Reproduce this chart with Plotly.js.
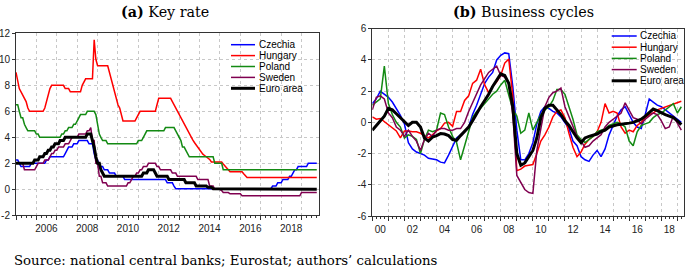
<!DOCTYPE html>
<html><head><meta charset="utf-8">
<script src="https://cdn.plot.ly/plotly-3.0.1.min.js"></script>
<style>body{margin:0;background:#fff}#chart{width:685px;height:270px}</style>
</head><body><div id="chart"></div>
<script>
// ---------- DATA ----------
const seriesNames = ['Czechia', 'Hungary', 'Poland', 'Sweden', 'Euro area'];

// (a) Key rate, monthly 2005-01 .. 2019-10
const keyRateStart = '2005-01';
const czechiaRate = [
 2.25,2.25,2.0,1.75,1.75,1.75,1.75,1.75,1.75,2.0,2.0,2.0,
 2.0,2.0,2.0,2.0,2.0,2.0,2.25,2.25,2.5,2.5,2.5,2.5,
 2.5,2.5,2.5,2.5,2.5,2.75,3.0,3.25,3.25,3.25,3.5,3.5,
 3.5,3.75,3.75,3.75,3.75,3.75,3.75,3.5,3.5,3.5,2.75,2.25,
 2.25,1.75,1.75,1.75,1.5,1.5,1.5,1.25,1.25,1.25,1.25,1.0,
 1.0,1.0,1.0,1.0,0.75,0.75,0.75,0.75,0.75,0.75,0.75,0.75,
 0.75,0.75,0.75,0.75,0.75,0.75,0.75,0.75,0.75,0.75,0.75,0.75,
 0.75,0.75,0.75,0.75,0.75,0.5,0.5,0.5,0.5,0.25,0.05,0.05,
 0.05,0.05,0.05,0.05,0.05,0.05,0.05,0.05,0.05,0.05,0.05,0.05,
 0.05,0.05,0.05,0.05,0.05,0.05,0.05,0.05,0.05,0.05,0.05,0.05,
 0.05,0.05,0.05,0.05,0.05,0.05,0.05,0.05,0.05,0.05,0.05,0.05,
 0.05,0.05,0.05,0.05,0.05,0.05,0.05,0.05,0.05,0.05,0.05,0.05,
 0.05,0.05,0.05,0.05,0.05,0.05,0.05,0.25,0.25,0.25,0.5,0.5,
 0.5,0.75,0.75,0.75,0.75,1.0,1.0,1.25,1.5,1.5,1.75,1.75,
 1.75,1.75,1.75,1.75,2.0,2.0,2.0,2.0,2.0,2.0
];
const hungaryRate = [
 9.0,8.25,7.75,7.5,7.25,7.0,6.75,6.25,6.0,6.0,6.0,6.0,
 6.0,6.0,6.0,6.0,6.0,6.25,6.75,7.25,7.75,8.0,8.0,8.0,
 8.0,8.0,8.0,8.0,8.0,7.75,7.75,7.75,7.5,7.5,7.5,7.5,
 7.5,7.5,7.5,8.0,8.25,8.5,8.5,8.5,8.5,8.5,11.5,10.0,
 9.5,9.5,9.5,9.5,9.5,9.5,9.5,9.0,8.5,8.0,7.5,7.0,
 6.5,6.25,5.75,5.25,5.25,5.25,5.25,5.25,5.25,5.25,5.25,5.5,
 5.75,6.0,6.0,6.0,6.0,6.0,6.0,6.0,6.0,6.0,6.0,6.5,
 7.0,7.0,7.0,7.0,7.0,7.0,7.0,7.0,6.75,6.5,6.25,6.0,
 5.75,5.5,5.25,5.0,4.75,4.5,4.25,4.0,3.8,3.6,3.4,3.2,
 3.0,2.85,2.7,2.6,2.5,2.4,2.3,2.1,2.1,2.1,2.1,2.1,
 2.1,2.1,1.95,1.8,1.65,1.5,1.35,1.35,1.35,1.35,1.35,1.35,
 1.35,1.35,1.2,1.05,0.9,0.9,0.9,0.9,0.9,0.9,0.9,0.9,
 0.9,0.9,0.9,0.9,0.9,0.9,0.9,0.9,0.9,0.9,0.9,0.9,
 0.9,0.9,0.9,0.9,0.9,0.9,0.9,0.9,0.9,0.9,0.9,0.9,
 0.9,0.9,0.9,0.9,0.9,0.9,0.9,0.9,0.9,0.9
];
const polandRate = [
 6.5,6.5,6.0,5.5,5.5,5.0,4.75,4.5,4.5,4.5,4.5,4.5,
 4.25,4.25,4.0,4.0,4.0,4.0,4.0,4.0,4.0,4.0,4.0,4.0,
 4.0,4.0,4.0,4.25,4.25,4.5,4.5,4.75,4.75,4.75,5.0,5.0,
 5.25,5.5,5.75,5.75,5.75,5.75,6.0,6.0,6.0,6.0,6.0,5.75,
 5.0,4.25,4.0,3.75,3.75,3.75,3.5,3.5,3.5,3.5,3.5,3.5,
 3.5,3.5,3.5,3.5,3.5,3.5,3.5,3.5,3.5,3.5,3.5,3.5,
 3.75,3.75,3.75,4.0,4.25,4.5,4.5,4.5,4.5,4.5,4.5,4.5,
 4.5,4.5,4.5,4.5,4.75,4.75,4.75,4.75,4.75,4.75,4.5,4.25,
 4.0,3.75,3.25,3.25,3.0,2.75,2.5,2.5,2.5,2.5,2.5,2.5,
 2.5,2.5,2.5,2.5,2.5,2.5,2.5,2.5,2.5,2.0,2.0,2.0,
 2.0,2.0,1.5,1.5,1.5,1.5,1.5,1.5,1.5,1.5,1.5,1.5,
 1.5,1.5,1.5,1.5,1.5,1.5,1.5,1.5,1.5,1.5,1.5,1.5,
 1.5,1.5,1.5,1.5,1.5,1.5,1.5,1.5,1.5,1.5,1.5,1.5,
 1.5,1.5,1.5,1.5,1.5,1.5,1.5,1.5,1.5,1.5,1.5,1.5,
 1.5,1.5,1.5,1.5,1.5,1.5,1.5,1.5,1.5,1.5
];
const swedenRate = [
 2.0,2.0,2.0,2.0,2.0,1.5,1.5,1.5,1.5,1.5,1.5,1.5,
 1.75,2.0,2.0,2.0,2.0,2.25,2.25,2.25,2.5,2.75,2.75,3.0,
 3.0,3.25,3.25,3.25,3.25,3.5,3.5,3.5,3.75,4.0,4.0,4.0,
 4.0,4.25,4.25,4.25,4.25,4.25,4.5,4.5,4.75,3.75,3.75,2.0,
 2.0,1.0,1.0,0.5,0.5,0.5,0.25,0.25,0.25,0.25,0.25,0.25,
 0.25,0.25,0.25,0.25,0.25,0.25,0.5,0.5,0.75,1.0,1.0,1.25,
 1.25,1.5,1.5,1.75,1.75,1.75,2.0,2.0,2.0,2.0,2.0,1.75,
 1.75,1.5,1.5,1.5,1.5,1.5,1.5,1.5,1.25,1.25,1.25,1.0,
 1.0,1.0,1.0,1.0,1.0,1.0,1.0,1.0,1.0,1.0,1.0,0.75,
 0.75,0.75,0.75,0.75,0.75,0.75,0.25,0.25,0.25,0.0,0.0,0.0,
 0.0,-0.1,-0.25,-0.25,-0.25,-0.25,-0.35,-0.35,-0.35,-0.35,-0.35,-0.35,
 -0.35,-0.5,-0.5,-0.5,-0.5,-0.5,-0.5,-0.5,-0.5,-0.5,-0.5,-0.5,
 -0.5,-0.5,-0.5,-0.5,-0.5,-0.5,-0.5,-0.5,-0.5,-0.5,-0.5,-0.5,
 -0.5,-0.5,-0.5,-0.5,-0.5,-0.5,-0.5,-0.5,-0.5,-0.5,-0.5,-0.5,
 -0.25,-0.25,-0.25,-0.25,-0.25,-0.25,-0.25,-0.25,-0.25,-0.25
];
const euroRate = [
 2.0,2.0,2.0,2.0,2.0,2.0,2.0,2.0,2.0,2.0,2.0,2.25,
 2.25,2.25,2.5,2.5,2.5,2.75,2.75,3.0,3.0,3.25,3.25,3.5,
 3.5,3.5,3.75,3.75,3.75,4.0,4.0,4.0,4.0,4.0,4.0,4.0,
 4.0,4.0,4.0,4.0,4.0,4.0,4.25,4.25,4.25,3.75,3.25,2.5,
 2.0,2.0,1.5,1.25,1.0,1.0,1.0,1.0,1.0,1.0,1.0,1.0,
 1.0,1.0,1.0,1.0,1.0,1.0,1.0,1.0,1.0,1.0,1.0,1.0,
 1.0,1.0,1.0,1.25,1.25,1.25,1.5,1.5,1.5,1.5,1.25,1.0,
 1.0,1.0,1.0,1.0,1.0,1.0,0.75,0.75,0.75,0.75,0.75,0.75,
 0.75,0.75,0.75,0.75,0.5,0.5,0.5,0.5,0.5,0.5,0.25,0.25,
 0.25,0.25,0.25,0.25,0.25,0.15,0.15,0.15,0.05,0.05,0.05,0.05,
 0.05,0.05,0.05,0.05,0.05,0.05,0.05,0.05,0.05,0.05,0.05,0.05,
 0.05,0.05,0.0,0.0,0.0,0.0,0.0,0.0,0.0,0.0,0.0,0.0,
 0.0,0.0,0.0,0.0,0.0,0.0,0.0,0.0,0.0,0.0,0.0,0.0,
 0.0,0.0,0.0,0.0,0.0,0.0,0.0,0.0,0.0,0.0,0.0,0.0,
 0.0,0.0,0.0,0.0,0.0,0.0,0.0,0.0,0.0,0.0
];
const keyRateYears = ['2005','2006','2007','2008','2009','2010','2011','2012','2013','2014','2015','2016','2017','2018','2019'];
const keyRateYearLabels = ['','2006','','2008','','2010','','2012','','2014','','2016','','2018',''];
const keyRateTicks = [-2,0,2,4,6,8,10,12];
const keyRateTickText = ['-2','0','2','4','6','8','10','12'];

// (b) Business cycles, quarterly 2000Q1 .. 2019Q2
const cycleStart = '2000-01';
const czechiaCycle = [
 1.2,1.5,2.0,1.8,1.6,1.3,0.9,0.45,-0.1,-1.3,-1.7,-1.9,
 -2.0,-2.1,-2.3,-2.35,-2.4,-2.55,-2.6,-2.1,-1.5,-1.0,-0.8,-0.6,
 -0.3,0.5,1.1,1.8,2.5,2.9,3.2,4.0,4.3,4.45,4.4,2.3,
 -0.5,-2.4,-2.4,-2.0,-1.3,-0.1,0.7,1.0,0.9,0.7,0.6,0.35,
 0.0,-0.4,-1.2,-1.5,-2.2,-2.4,-2.5,-2.1,-1.8,-2.2,-1.7,-0.8,
 -0.2,0.4,0.8,1.0,0.5,0.0,-0.3,-0.4,0.5,1.5,1.3,1.1,
 1.0,0.8,0.6,0.4,0.2,0.0
];
const hungaryCycle = [
 0.35,0.2,0.25,0.05,-0.15,-0.35,-0.55,-1.0,-0.55,-0.55,-0.6,-0.6,
 -0.7,-0.85,-1.0,-0.8,-0.55,-0.4,-0.05,0.0,-0.25,0.7,0.7,1.4,
 1.7,2.5,2.7,3.4,2.4,1.9,2.3,2.6,3.0,3.8,4.05,1.7,
 -3.1,-3.0,-2.8,-2.75,-2.7,-2.0,-1.2,-0.8,-0.3,0.35,0.7,0.8,
 0.3,-0.7,-1.6,-2.2,-1.9,-1.4,-1.1,-0.9,-0.6,0.0,1.2,0.6,
 0.7,0.6,-0.3,-0.7,-0.5,-0.6,-0.2,0.0,0.3,0.5,0.6,0.8,
 0.9,1.0,1.1,1.2,1.3,1.35
];
const polandCycle = [
 1.1,1.3,1.5,3.6,1.2,0.5,0.0,-0.3,-1.0,-0.8,-0.9,-1.1,
 -2.0,-1.1,-0.5,-0.6,-0.5,0.6,0.5,-0.3,-0.9,-1.3,-2.4,-1.5,
 -0.5,0.3,0.7,0.9,1.2,1.5,1.8,2.0,2.4,2.7,1.8,0.8,
 0.4,-0.7,-0.5,0.6,-0.5,0.0,0.5,0.8,1.0,1.4,2.1,2.1,
 1.8,1.0,0.2,-0.8,-1.1,-1.3,-1.1,-0.9,-0.6,-0.5,-0.4,-0.2,
 -0.1,0.0,-0.1,-0.3,-1.2,-1.5,-0.6,-0.2,-0.1,0.0,0.3,0.5,
 0.6,0.8,1.0,1.2,0.6,1.0
];
const swedenCycle = [
 0.8,1.6,1.7,1.5,0.6,0.3,-0.3,-0.5,-0.9,-0.5,-0.9,-1.2,
 -1.8,-1.1,-0.7,-0.9,-0.5,-0.4,-0.4,-0.5,-0.5,-0.4,-0.4,0.0,
 0.7,1.3,1.9,2.4,2.8,3.2,3.4,3.6,3.0,2.9,2.5,0.5,
 -3.4,-3.9,-4.3,-4.5,-4.55,-1.8,-0.3,1.0,1.6,1.9,2.0,2.2,
 1.0,0.4,-0.2,-0.9,-1.2,-1.6,-1.5,-1.2,-1.0,-0.8,-0.3,0.0,
 0.2,0.4,0.6,1.25,0.8,0.3,0.2,-0.1,0.2,0.4,0.6,0.5,
 0.1,-0.4,-0.3,0.4,-0.1,-0.5
];
const euroCycle = [
 -0.5,-0.2,0.1,0.4,0.9,0.8,0.55,0.3,0.0,-0.2,0.0,0.0,
 -0.3,-1.0,-1.2,-0.95,-0.85,-0.72,-0.75,-0.85,-1.1,-1.15,-0.85,-0.55,
 -0.3,0.1,0.6,1.0,1.4,1.8,2.3,2.7,3.1,3.0,2.5,1.0,
 -2.0,-2.75,-2.6,-2.2,-1.8,-1.0,0.3,0.9,1.1,1.1,0.8,0.5,
 0.1,-0.2,-0.6,-1.0,-1.3,-1.0,-0.9,-0.8,-0.75,-0.6,-0.5,-0.3,
 -0.2,-0.15,-0.12,-0.1,-0.05,0.0,0.1,0.2,0.4,0.6,0.85,0.75,
 0.6,0.5,0.4,0.3,0.1,-0.15
];
const cycleYears = ['2000','2001','2002','2003','2004','2005','2006','2007','2008','2009','2010','2011','2012','2013','2014','2015','2016','2017','2018','2019'];
const cycleYearLabels = ['00','','02','','04','','06','','08','','10','','12','','14','','16','','18',''];
const cycleTicks = [-6,-4,-2,0,2,4,6];
const cycleTickText = ['-6','-4','-2','0','2','4','6'];

// ---------- STYLE ----------
const colors = ['#0000ff', '#ff0000', '#138a13', '#800050', '#000000'];
const widths = [1.5, 1.5, 1.5, 1.5, 3];
const W = 685, H = 270;
const px = v => v / W, py = v => 1 - v / H;
const serif = 'DejaVu Serif, Liberation Serif, serif';

function periodDates(start, n, stepMonths) {
  let [y, m] = start.split('-').map(Number);
  const out = [];
  for (let i = 0; i < n; i++) {
    out.push(y + '-' + String(m).padStart(2, '0') + '-01');
    m += stepMonths; while (m > 12) { m -= 12; y++; }
  }
  return out;
}

const keyRateSeries = [czechiaRate, hungaryRate, polandRate, swedenRate, euroRate];
const cycleSeries = [czechiaCycle, hungaryCycle, polandCycle, swedenCycle, euroCycle];
const monthDates = periodDates(keyRateStart, czechiaRate.length, 1);
const quarterDates = periodDates(cycleStart, czechiaCycle.length, 3);

const traces = [];
keyRateSeries.forEach((s, i) => traces.push({
  type: 'scatter', mode: 'lines', x: monthDates, y: s, name: seriesNames[i],
  xaxis: 'x', yaxis: 'y', line: {color: colors[i], width: widths[i]}, showlegend: false
}));
cycleSeries.forEach((s, i) => traces.push({
  type: 'scatter', mode: 'lines', x: quarterDates, y: s, name: seriesNames[i],
  xaxis: 'x2', yaxis: 'y2', line: {color: colors[i], width: widths[i]}, showlegend: false
}));

const tickFont = {family: 'Liberation Sans, Arial, sans-serif', size: 10, color: '#222'};
const gridStyle = {showgrid: true, gridcolor: '#c8c8c8', gridwidth: 1, griddash: '3px,3px'};
const lineStyle = {showline: true, linecolor: '#333', linewidth: 1, mirror: true, zeroline: false};

function xAxis(domain, range, years, labels, shift) {
  return Object.assign({
    type: 'date', domain, range, tickmode: 'array',
    tickvals: years.map(y => y + '-01-01'), ticktext: labels,
    ticklabelshift: shift, ticks: 'outside', ticklen: 4, tickcolor: '#333',
    tickfont: tickFont, fixedrange: true,
    minor: {dtick: 'M3', tick0: years[0] + '-01-01', ticks: 'outside', ticklen: 2, tickcolor: '#333', showgrid: false}
  }, gridStyle, lineStyle);
}
function yAxis(domain, range, vals, text, anchor) {
  return Object.assign({
    domain, range, tickmode: 'array', tickvals: vals, ticktext: text, anchor,
    ticks: 'outside', ticklen: 3, tickcolor: '#333', tickfont: tickFont, fixedrange: true
  }, gridStyle, lineStyle);
}

const annotations = [
  {text: '<b>(a)</b> Key rate', x: px(165), y: py(11.5)},
  {text: '<b>(b)</b> Business cycles', x: px(523), y: py(11.5)}
].map(a => Object.assign(a, {xref: 'paper', yref: 'paper', showarrow: false, xanchor: 'center', yanchor: 'middle',
  font: {family: serif, size: 14.3, color: '#000'}}));
annotations.push({text: 'Source: national central banks; Eurostat; authors’ calculations',
  x: px(12), y: py(260.5), xref: 'paper', yref: 'paper', showarrow: false, xanchor: 'left', yanchor: 'middle',
  font: {family: serif, size: 13.3, color: '#000'}});

const shapes = [];
const legends = [{x0: 231, x1: 255, tx: 257, y0: 44.7, dy: 10.9}, {x0: 611.7, x1: 636.7, tx: 638, y0: 36, dy: 11.2}];
legends.forEach(L => seriesNames.forEach((n, i) => {
  const yy = L.y0 + i * L.dy;
  shapes.push({type: 'line', xref: 'paper', yref: 'paper', x0: px(L.x0), x1: px(L.x1), y0: py(yy), y1: py(yy),
    line: {color: colors[i], width: widths[i]}});
  annotations.push({text: n, x: px(L.tx), y: py(yy), xref: 'paper', yref: 'paper', showarrow: false,
    xanchor: 'left', yanchor: 'middle', font: {family: 'Liberation Sans, Arial, sans-serif', size: 10, color: '#000'}});
}));

const layout = {
  width: W, height: H, margin: {l: 0, r: 0, t: 0, b: 0},
  paper_bgcolor: '#fff', plot_bgcolor: '#fff', showlegend: false,
  xaxis: xAxis([px(16), px(318.5)], ['2005-01-01', '2019-11-01'], keyRateYears, keyRateYearLabels, 10),
  yaxis: yAxis([py(215.3), py(33.3)], [-2, 12], keyRateTicks, keyRateTickText, 'x'),
  xaxis2: Object.assign(xAxis([px(372.3), px(684)], ['2000-01-01', '2019-06-01'], cycleYears, cycleYearLabels, 8), {anchor: 'y2'}),
  yaxis2: yAxis([py(216), py(28.7)], [-6, 6], cycleTicks, cycleTickText, 'x2'),
  annotations, shapes
};
layout.xaxis.anchor = 'y';

Plotly.newPlot('chart', traces, layout, {displayModeBar: false, staticPlot: true});
</script></body></html>
